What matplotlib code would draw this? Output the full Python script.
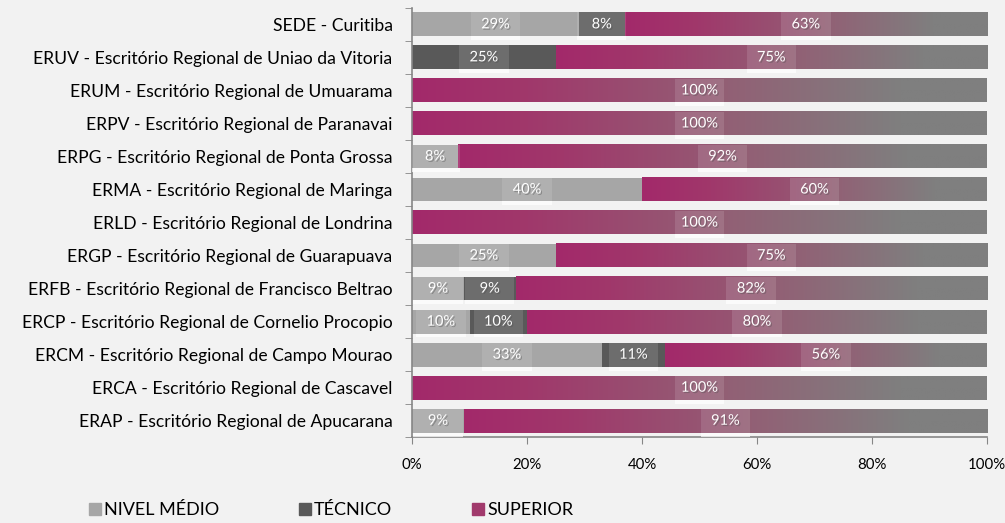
import numpy as np
import matplotlib.pyplot as plt
from matplotlib.colors import LinearSegmentedColormap
from matplotlib.patches import Patch, Rectangle
import matplotlib.patheffects as pe

plt.rcParams['font.family'] = ['Lato', 'DejaVu Sans']

regions = [
    "ERAP - Escritório Regional de Apucarana",
    "ERCA - Escritório Regional de Cascavel",
    "ERCM - Escritório Regional de Campo Mourao",
    "ERCP - Escritório Regional de Cornelio Procopio",
    "ERFB - Escritório Regional de Francisco Beltrao",
    "ERGP - Escritório Regional de Guarapuava",
    "ERLD - Escritório Regional de Londrina",
    "ERMA - Escritório Regional de Maringa",
    "ERPG - Escritório Regional de Ponta Grossa",
    "ERPV - Escritório Regional de Paranavai",
    "ERUM - Escritório Regional de Umuarama",
    "ERUV - Escritório Regional de Uniao da Vitoria",
    "SEDE - Curitiba",
]
nivel_medio = [9, 0, 33, 10, 9, 25, 0, 40, 8, 0, 0, 0, 29]
tecnico = [0, 0, 11, 10, 9, 0, 0, 0, 0, 0, 0, 25, 8]
superior = [91, 100, 56, 80, 82, 75, 100, 60, 92, 100, 100, 75, 63]

series_names = ["NIVEL MÉDIO", "TÉCNICO", "SUPERIOR"]

bg = '#f2f2f2'
c_medio = '#a6a6a6'
c_tec = '#595959'
c_mag = '#a3296a'
c_end = '#7f7f7f'
grad = LinearSegmentedColormap.from_list(
    'sup', [(0, c_mag), (0.2, '#a0386b'), (0.55, '#926075'), (0.85, c_end), (1, c_end)])

fig = plt.figure(figsize=(10.05, 5.23), dpi=100, facecolor=bg)
ax = fig.add_axes([0.410, 0.164, 0.572, 0.821], facecolor=bg)

y = np.arange(len(regions))
h = 0.72
nm = np.array(nivel_medio, float)
tc = np.array(tecnico, float)
sp = np.array(superior, float)

ax.barh(y, nm, height=h, color=c_medio, zorder=2)
ax.barh(y, tc, left=nm, height=h, color=c_tec, zorder=2)
gradient = np.linspace(0, 1, 256).reshape(1, -1)
for i in range(len(regions)):
    left = nm[i] + tc[i]
    ax.imshow(gradient, cmap=grad, aspect='auto', zorder=2,
              extent=(left, left + sp[i], y[i] - h / 2, y[i] + h / 2))

box_w = 8.6


def label(x, yy, v):
    ax.add_patch(Rectangle((x - box_w / 2, yy - h / 2), box_w, h, fc='white',
                           alpha=0.12, ec='none', zorder=3))
    ax.add_patch(Rectangle((x - box_w / 2, yy - h / 2 - 0.12), box_w, 0.12, fc='white',
                           alpha=0.7, ec='none', zorder=3))
    ax.text(x, yy, f"{int(v)}%", ha='center', va='center', color='white',
            fontsize=10.5, zorder=4,
            path_effects=[pe.withSimplePatchShadow(offset=(1, -1), alpha=0.4)])


for i in range(len(regions)):
    if nm[i] > 0:
        label(nm[i] / 2, y[i], nm[i])
    if tc[i] > 0:
        label(nm[i] + tc[i] / 2, y[i], tc[i])
    if sp[i] > 0:
        label(nm[i] + tc[i] + sp[i] / 2, y[i], sp[i])

ax.set_xlim(0, 100)
ax.set_ylim(-0.5, len(regions) - 0.5)
ax.set_xticks(np.arange(0, 101, 20))
ax.set_xticklabels([f"{v}%" for v in range(0, 101, 20)])
ax.set_yticks(y)
ax.set_yticklabels(regions)
ax.set_yticks(np.arange(-0.5, len(regions), 1), minor=True)
ax.tick_params(axis='y', which='major', length=0, labelsize=12.6, pad=14, colors='#000000')
ax.tick_params(axis='y', which='minor', length=5, color='#868686')
ax.tick_params(axis='x', length=5, color='#868686', labelsize=10.8, pad=10)
for s in ['top', 'right']:
    ax.spines[s].set_visible(False)
for s in ['left', 'bottom']:
    ax.spines[s].set_color('#868686')
    ax.spines[s].set_linewidth(1.2)

handles = [Patch(color=c_medio), Patch(color=c_tec), Patch(color='#a13a6c')]
fig.legend(handles, series_names, loc='lower left', bbox_to_anchor=(0.072, -0.022),
           ncol=3, frameon=False,
           prop={'family': ['Liberation Sans Narrow', 'Lato'], 'size': 13},
           handlelength=0.7, handleheight=0.7, handletextpad=0.15, columnspacing=4.4)

fig.savefig('out.png', dpi=100, facecolor=bg)
